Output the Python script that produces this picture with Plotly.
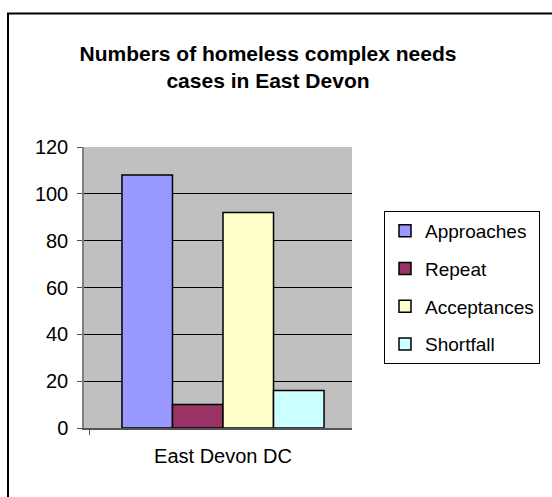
import plotly.graph_objects as go

# Complex-needs homelessness cases, East Devon DC
category = ["East Devon DC"]
series_names = ["Approaches", "Repeat", "Acceptances", "Shortfall"]
series_values = [[108], [10], [92], [16]]
series_colors = ["#9999FF", "#993366", "#FFFFCC", "#CCFFFF"]
y_ticks = [0, 20, 40, 60, 80, 100, 120]

W, H = 552, 497
PL, PR, PT, PB = 84, 352, 147, 428  # plot area in pixels

def px_x(p):
    return (p - PL) / (PR - PL)

def px_y(p):
    return (PB - p) / (PB - PT)

fig = go.Figure()
for name, vals, col in zip(series_names, series_values, series_colors):
    fig.add_trace(go.Bar(
        x=category, y=vals, name=name, legendgroup=name,
        marker=dict(color=col, line=dict(color="black", width=1.5)),
    ))

font = "Liberation Sans, Arial, sans-serif"
shift = 5 / (PR - PL)  # bar group sits slightly right of centre
fig.update_layout(
    width=W, height=H,
    margin=dict(l=PL, r=W - PR, t=PT, b=H - PB, pad=0, autoexpand=False),
    paper_bgcolor="white",
    plot_bgcolor="#C0C0C0",
    barmode="group", bargap=0.246, bargroupgap=0,
    font=dict(family=font, size=20, color="black"),
    title=dict(
        text="<b>Numbers of homeless complex needs<br>cases in East Devon</b>",
        font=dict(family=font, size=21, color="black"),
        xref="paper", x=px_x(268), xanchor="center",
        yref="container", y=1 - 61 / H, yanchor="middle",
    ),
    legend=dict(
        x=px_x(384), y=px_y(211), xanchor="left", yanchor="top",
        bordercolor="black", borderwidth=1, bgcolor="white",
        font=dict(family=font, size=19),
        tracegroupgap=10, traceorder="grouped",
    ),
    showlegend=True,
)
fig.update_yaxes(
    range=[0, 120], tickvals=y_ticks, showgrid=True, gridcolor="black", gridwidth=1,
    ticks="outside", ticklen=5, tickcolor="#555555",
    showline=True, linecolor="#808080", linewidth=1.5, zeroline=False,
    tickfont=dict(size=20), ticklabelstandoff=5,
)
fig.update_xaxes(
    range=[-0.5 - shift, 0.5 - shift],
    showgrid=False, ticks="outside", ticklen=5, tickcolor="#555555", tickson="boundaries",
    showline=True, linecolor="#555555", linewidth=1.5,
    tickfont=dict(size=20), ticklabelstandoff=9,
)
# chart frame
fig.add_shape(type="rect", xref="paper", yref="paper",
              x0=px_x(8), x1=px_x(570), y0=px_y(520), y1=px_y(13.5),
              line=dict(color="black", width=2), fillcolor="rgba(0,0,0,0)", layer="above")

fig.write_html("out.html")
